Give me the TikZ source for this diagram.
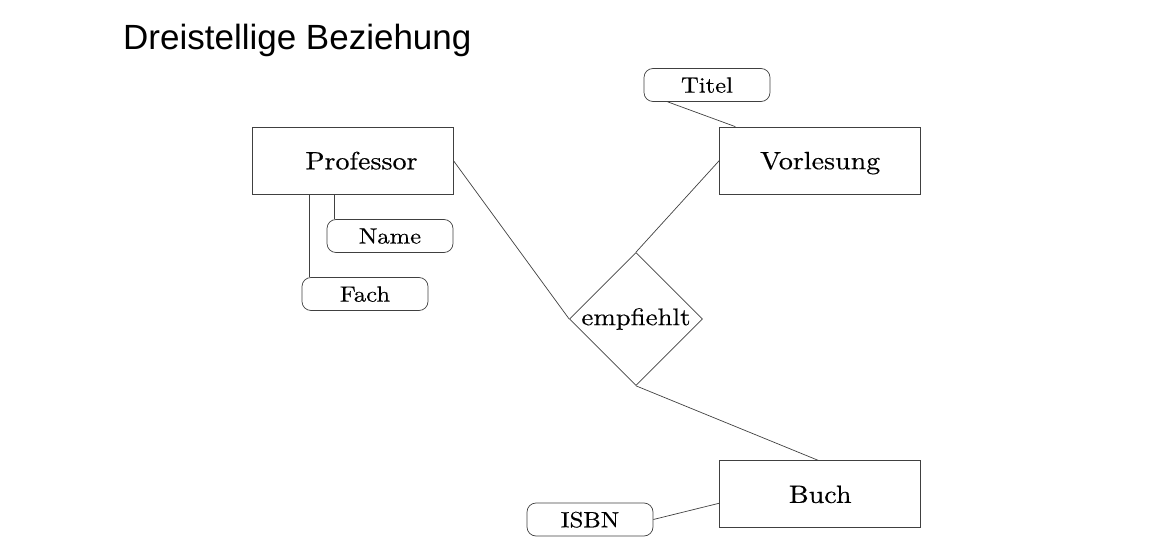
\documentclass[tikz,border=0pt]{standalone}
\usepackage{fontspec}
\usetikzlibrary{shapes.geometric,positioning}
\newfontfamily\erfont{lmroman10-regular.otf}[FakeStretch=1.12, FakeBold=0.4]
\newfontfamily\headfont{Liberation Sans}
\tikzset{
  entity/.style = {draw=black!75, line width=0.7pt, rectangle, minimum width=201pt,
    minimum height=67pt, text depth=0pt, font=\erfont\fontsize{25}{29}\selectfont},
  attrib/.style = {draw=black!75, line width=0.7pt, rectangle, rounded corners=9pt,
    minimum width=126pt, minimum height=33pt, text depth=0pt,
    font=\erfont\fontsize{22}{26}\selectfont},
  relation/.style = {draw=black!75, line width=0.7pt, diamond, aspect=1, inner sep=0pt,
    minimum size=133pt, font=\erfont\fontsize{24}{28}\selectfont},
  link/.style = {draw=black!75, line width=0.7pt}
}

\begin{document}
\begin{tikzpicture}[x=1pt, y=-1pt, node distance=266pt]
  \useasboundingbox (0,0) rectangle (1162,556);
  \node[anchor=base west, inner sep=0pt, font=\headfont\fontsize{35}{41}\selectfont]
    (head) at (123,50) {Dreistellige Beziehung};
  % entities and relationship
  \node[entity] (prof) at (352.5,160.5) {\hspace*{18pt}Professor};
  \node[entity, right=of prof] (vorl) {Vorlesung};
  \node[entity, below=of vorl] (buch) {Buch};
  \node[relation] (empf) at (636,319) {empfiehlt};
  % attributes
  \node[attrib] (titel) at (707,85) {Titel};
  \node[attrib] (name) at (390,236) {Name};
  \node[attrib] (fach) at (365,294) {Fach};
  \node[attrib] (isbn) at (590,519.5) {ISBN};
  \draw[link] (prof.east) -- (empf.west);
  \draw[link] (vorl.west) -- (empf.north);
  \draw[link] (empf.south) -- ([xshift=-2pt]buch.north);
  \draw[link] ([xshift=24pt]titel.south west) -- ([xshift=16pt]vorl.north west);
  \draw[link] ([xshift=8pt]name.north west) -- ([xshift=8pt]name.north west |- prof.south);
  \draw[link] ([xshift=8pt]fach.north west) -- ([xshift=8pt]fach.north west |- prof.south);
  \draw[link] (isbn.east) -- ([yshift=-9pt]buch.west);
\end{tikzpicture}
\end{document}
